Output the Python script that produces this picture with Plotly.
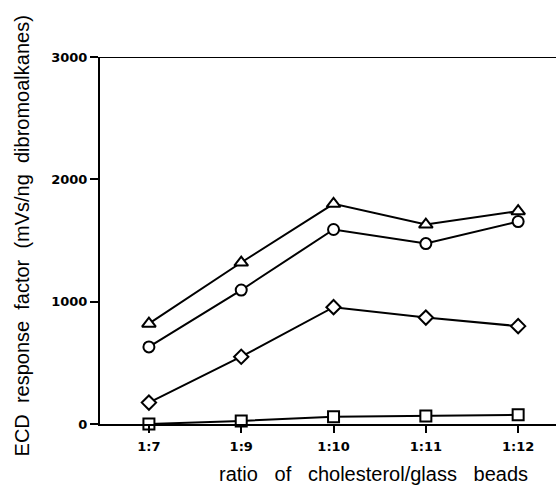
import plotly.graph_objects as go

# Cholesterol/glass-bead ratios on the x axis
ratios = ["1:7", "1:9", "1:10", "1:11", "1:12"]

# ECD response factors (mVs/ng) for the four dibromoalkanes
resp_triangle = [820, 1320, 1800, 1630, 1740]
resp_circle = [630, 1095, 1590, 1475, 1655]
resp_diamond = [175, 550, 955, 870, 800]
resp_square = [0, 25, 60, 65, 75]

y_ticks = [0, 1000, 2000, 3000]

series = [
    (resp_square, "square"),
    (resp_diamond, "diamond"),
    (resp_circle, "circle"),
    (resp_triangle, "triangle-up"),
]

fig = go.Figure()
for vals, sym in series:
    fig.add_trace(go.Scatter(
        x=ratios, y=vals, mode="lines+markers",
        line=dict(color="black", width=2),
        marker=dict(symbol=sym, size=11 if sym != "triangle-up" else 12,
                    color="white", line=dict(color="black", width=2)),
        showlegend=False, cliponaxis=False,
    ))

font = "Liberation Sans, Arial, sans-serif"
tick_font = "DejaVu Sans, sans-serif"
gap2 = "\u00a0\u00a0"
gap3 = "\u00a0\u00a0\u00a0"

fig.update_layout(
    width=556, height=486,
    margin=dict(l=100, r=0, t=57, b=62),
    paper_bgcolor="white", plot_bgcolor="white",
    font=dict(family=font, color="black"),
    xaxis=dict(
        type="category", range=[-0.53, 4.41],
        showline=True, linecolor="black", linewidth=2,
        ticks="outside", ticklen=7, tickwidth=2, tickcolor="black",
        showgrid=False, zeroline=False,
        tickfont=dict(size=13, family=tick_font, weight="bold"),
        ticklabelstandoff=2,
    ),
    yaxis=dict(
        range=[0, 3000], tickvals=y_ticks,
        showline=True, linecolor="black", linewidth=2,
        ticks="outside", ticklen=8, tickwidth=2, tickcolor="black",
        showgrid=False, zeroline=False,
        tickfont=dict(size=13, family=tick_font, weight="bold"),
    ),
    shapes=[dict(type="line", xref="paper", yref="y", x0=0, x1=1,
                 y0=3000, y1=3000, line=dict(color="black", width=2))],
    annotations=[
        dict(text=gap3.join(["ratio", "of", "cholesterol/glass", "beads"]),
             xref="paper", yref="paper", x=0.599, y=0, yshift=-50,
             showarrow=False, font=dict(size=20, family=font),
             xanchor="center", yanchor="middle"),
        dict(text=gap2.join(["ECD", "response", "factor", "(mVs/ng", "dibromoalkanes)"]),
             xref="paper", yref="paper", x=0, xshift=-78, y=0.511,
             textangle=-90, showarrow=False,
             font=dict(size=20, family=font),
             xanchor="center", yanchor="middle"),
    ],
)

fig.write_html("out.html")
